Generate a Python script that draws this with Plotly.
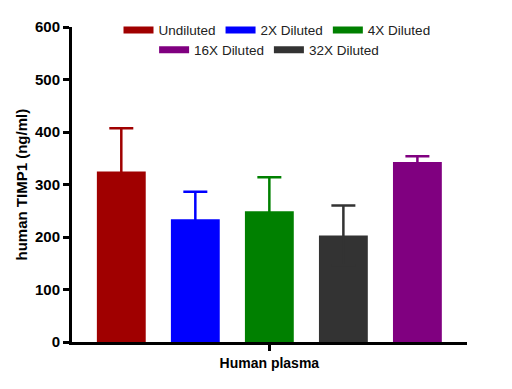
import plotly.graph_objects as go

# Data (bar order as drawn on the x axis)
categories = ["Undiluted", "2X Diluted", "4X Diluted", "32X Diluted", "16X Diluted"]
means = [325, 234, 249, 203, 343]
upper = [407, 286, 314, 260, 354]
colors = ["#a00000", "#0000ff", "#008000", "#333333", "#800080"]

legend_row1 = ["Undiluted", "2X Diluted", "4X Diluted"]
legend_row2 = ["16X Diluted", "32X Diluted"]

x_label = "Human plasma"
y_title = "human TIMP1 (ng/ml)"
y_ticks = [0, 100, 200, 300, 400, 500, 600]

color_of = dict(zip(categories, colors))

fig = go.Figure()
for i, (cat, m, u, c) in enumerate(zip(categories, means, upper, colors)):
    fig.add_trace(go.Bar(
        x=[i], y=[m], width=0.66, name=cat, showlegend=False,
        marker=dict(color=c, line=dict(width=0)),
        error_y=dict(type="data", symmetric=True, array=[u - m],
                     color=c, thickness=2.5, width=12),
    ))

# legend entries (line symbols resemble the flat legend swatches)
for cat in legend_row1:
    fig.add_trace(go.Scatter(x=[None], y=[None], mode="lines", name=cat,
                             line=dict(color=color_of[cat], width=7), legend="legend"))
for cat in legend_row2:
    fig.add_trace(go.Scatter(x=[None], y=[None], mode="lines", name=cat,
                             line=dict(color=color_of[cat], width=7), legend="legend2"))

legend_common = dict(orientation="h", xanchor="center", yanchor="middle",
                     font=dict(family="Liberation Sans, Arial", size=13.5, color="#222222"),
                     bgcolor="rgba(0,0,0,0)", itemwidth=30, itemclick=False)

fig.update_layout(
    width=512, height=389,
    margin=dict(l=72, r=45, t=27, b=47),
    paper_bgcolor="white", plot_bgcolor="white",
    barmode="overlay",
    font=dict(family="Liberation Sans, Arial", color="black"),
    legend=dict(x=0.519, y=0.99, **legend_common),
    legend2=dict(x=0.499, y=0.927, **legend_common),
    xaxis=dict(range=[-0.666, 4.67], showgrid=False, zeroline=False,
               showline=True, linecolor="black", linewidth=3,
               tickmode="array", tickvals=[2], ticktext=[f"<b>{x_label}</b>"],
               ticks="outside", ticklen=6, tickwidth=3, tickcolor="black",
               tickfont=dict(size=14, color="black")),
    yaxis=dict(range=[0, 600], showgrid=False, zeroline=False,
               showline=True, linecolor="black", linewidth=3,
               tickmode="array", tickvals=y_ticks,
               ticktext=[f"<b>{v}</b>" for v in y_ticks],
               ticks="outside", ticklen=6, tickwidth=3, tickcolor="black",
               tickfont=dict(size=15, color="black")),
    annotations=[dict(text=f"<b>{y_title}</b>", textangle=-90, xref="paper", yref="paper",
                      x=-0.1266, y=0.5, xanchor="center", yanchor="middle", showarrow=False,
                      font=dict(size=15, color="black"))],
)

fig.write_html("out.html", config={"displayModeBar": False},
               post_script="document.body.style.margin='0';")
